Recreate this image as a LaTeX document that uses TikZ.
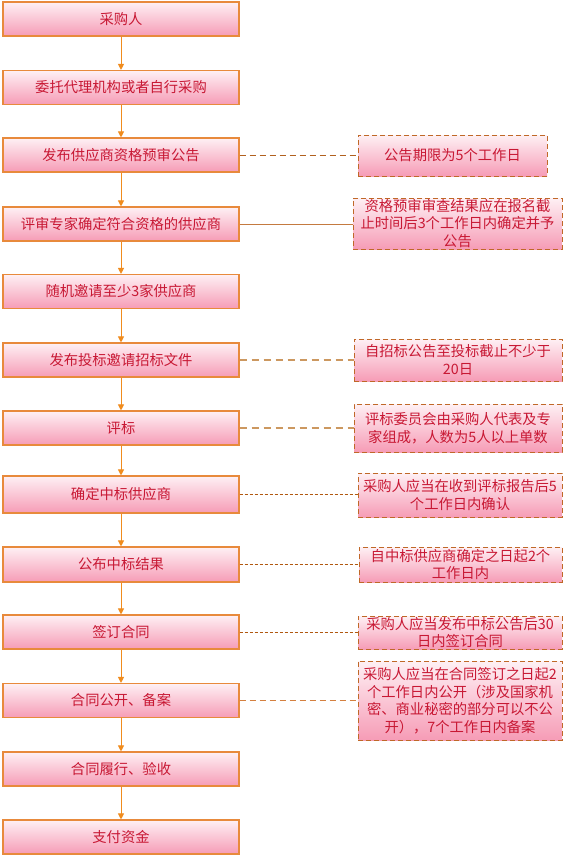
\documentclass[tikz,border=0pt]{standalone}
\usepackage{fontspec}
\setmainfont{Noto Sans CJK SC}
\usetikzlibrary{arrows.meta}
\definecolor{boxtop}{RGB}{254,240,244}
\definecolor{boxbot}{RGB}{246,156,182}
\definecolor{boxline}{RGB}{232,138,60}
\definecolor{noteline}{RGB}{192,104,40}
\definecolor{txt}{RGB}{200,24,52}
\definecolor{arrcol}{RGB}{240,140,30}
\definecolor{conA}{RGB}{176,96,30}
\definecolor{conB}{RGB}{196,122,64}
\definecolor{conC}{RGB}{204,152,96}
\definecolor{conD}{RGB}{176,88,16}
\definecolor{conE}{RGB}{212,128,64}
\tikzset{
  stepbox/.style={rectangle, draw=boxline, line width=1.1pt, top color=boxtop, bottom color=boxbot,
    minimum width=236pt, minimum height=34pt, inner sep=0pt, text=txt,
    font=\fontsize{14.3}{17.5}\selectfont},
  notebox/.style={rectangle, draw=noteline, line width=1pt, dash pattern=on 5pt off 3pt,
    top color=boxtop, bottom color=boxbot, inner sep=0pt, text=txt, align=center,
    font=\fontsize{14.3}{17.5}\selectfont},
  arr/.style={draw=arrcol, line width=1pt, -{Triangle[length=6pt,width=6pt]}},
  conDashA/.style={draw=conA, line width=1pt, dash pattern=on 6pt off 4pt},
  conSolid/.style={draw=conB, line width=1pt},
  conDashC/.style={draw=conC, line width=1.3pt, dash pattern=on 7pt off 5pt},
  conFine/.style={draw=conD, line width=1pt, dash pattern=on 3pt off 2pt},
  conDashE/.style={draw=conE, line width=1pt, dash pattern=on 6pt off 4pt},
}
\begin{document}
\begin{tikzpicture}[x=1pt,y=-1pt]
\useasboundingbox[fill=white] (0,0) rectangle (564,860);
% main steps
\node[stepbox] (b1) at (121,19) {采购人};
\node[stepbox] (b2) at (121,87.5) {委托代理机构或者自行采购};
\node[stepbox] (b3) at (121,155) {发布供应商资格预审公告};
\node[stepbox] (b4) at (121,224) {评审专家确定符合资格的供应商};
\node[stepbox] (b5) at (121,291.5) {随机邀请至少3家供应商};
\node[stepbox] (b6) at (121,360) {发布投标邀请招标文件};
\node[stepbox] (b7) at (121,428) {评标};
\node[stepbox, minimum height=37pt] (b8) at (121,494.5) {确定中标供应商};
\node[stepbox, minimum height=35pt] (b9) at (121,564.5) {公布中标结果};
\node[stepbox] (b10) at (121,632) {签订合同};
\node[stepbox] (b11) at (121,700.5) {合同公开、备案};
\node[stepbox] (b12) at (121,769) {合同履行、验收};
\node[stepbox] (b13) at (121,837) {支付资金};
% notes
\node[notebox, minimum width=189pt, minimum height=41pt] (n1) at (452.5,155.5) {公告期限为5个工作日};
\node[notebox, minimum width=209pt, minimum height=51pt] (n2) at (457.5,223.5) {资格预审审查结果应在报名截\\止时间后3个工作日内确定并予\\公告};
\node[notebox, minimum width=208pt, minimum height=42pt] (n3) at (458,360) {自招标公告至投标截止不少于\\20日};
\node[notebox, minimum width=208pt, minimum height=48pt] (n4) at (458,428) {评标委员会由采购人代表及专\\家组成，人数为5人以上单数};
\node[notebox, minimum width=204pt, minimum height=44pt] (n5) at (460,495) {采购人应当在收到评标报告后5\\个工作日内确认};
\node[notebox, minimum width=203pt, minimum height=35pt] (n6) at (460.5,564.5) {自中标供应商确定之日起2个\\工作日内};
\node[notebox, minimum width=204pt, minimum height=33pt] (n7) at (460,632.5) {采购人应当发布中标公告后30\\日内签订合同};
\node[notebox, minimum width=204pt, minimum height=79pt] (n8) at (460,700.5) {采购人应当在合同签订之日起2\\个工作日内公开（涉及国家机\\密、商业秘密的部分可以不公\\开），7个工作日内备案};
% arrows
\draw[arr] (b1) -- (b2);
\draw[arr] (b2) -- (b3);
\draw[arr] (b3) -- (b4);
\draw[arr] (b4) -- (b5);
\draw[arr] (b5) -- (b6);
\draw[arr] (b6) -- (b7);
\draw[arr] (b7) -- (b8);
\draw[arr] (b8) -- (b9);
\draw[arr] (b9) -- (b10);
\draw[arr] (b10) -- (b11);
\draw[arr] (b11) -- (b12);
\draw[arr] (b12) -- (b13);
% connectors to notes
\draw[conDashA] (b3.east) -- (b3.east -| n1.west);
\draw[conSolid] (b4.east) -- (b4.east -| n2.west);
\draw[conDashC] (b6.east) -- (b6.east -| n3.west);
\draw[conDashC] (b7.east) -- (b7.east -| n4.west);
\draw[conFine] (b8.east) -- (b8.east -| n5.west);
\draw[conFine] (b9.east) -- (b9.east -| n6.west);
\draw[conFine] (b10.east) -- (b10.east -| n7.west);
\draw[conDashE] (b11.east) -- (b11.east -| n8.west);
\end{tikzpicture}
\end{document}
